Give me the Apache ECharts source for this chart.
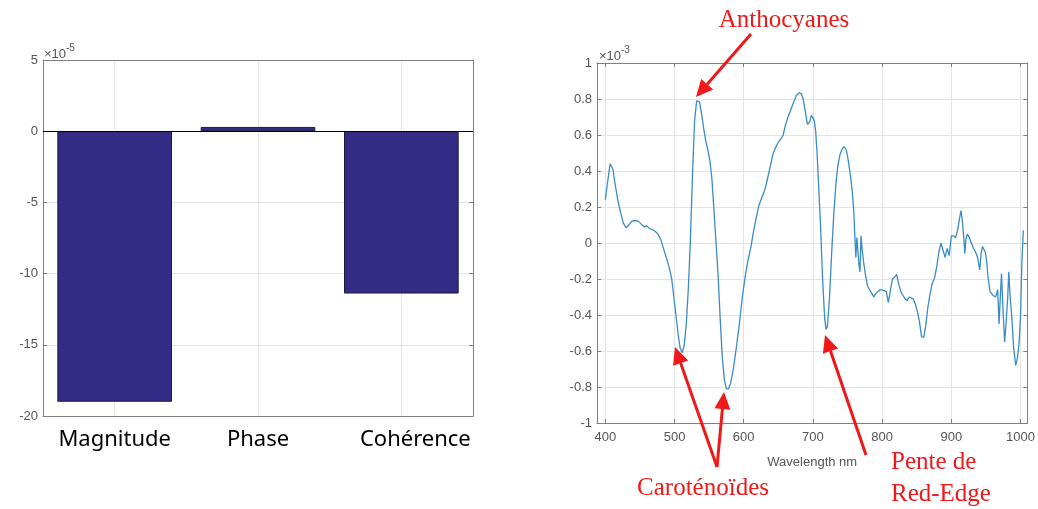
<!DOCTYPE html>
<html>
<head>
<meta charset="utf-8">
<script src="https://cdn.jsdelivr.net/npm/echarts@6.0.0/dist/echarts.min.js"></script>
<style>
html, body { margin: 0; padding: 0; background: #fff; }
#main { width: 1038px; height: 509px; }
</style>
</head>
<body>
<div id="main"></div>
<script>
// left panel, values in units of 1e-5
var barCategories = ['Magnitude', 'Phase', 'Cohérence'];
var barValues = [-19.0, 0.3, -11.4];
var barTicks = [-20, -15, -10, -5, 0, 5];

// right panel, wavelength (nm) and discriminant value in units of 1e-3
var wavelengths = [
  400, 403, 407, 411, 414, 418, 422, 426, 430, 434, 438, 443, 448, 452, 456, 460, 464, 468, 472, 476,
  480, 484, 488, 492, 496, 499, 502, 505, 508, 511, 514, 517, 520, 523, 526, 529, 532, 534, 536, 539,
  542, 545, 548, 551, 554, 557, 560, 563, 566, 569, 572, 575, 578, 581, 585, 589, 594, 598, 602, 606,
  610, 614, 618, 622, 626, 630, 634, 638, 642, 646, 650, 654, 657, 660, 664, 668, 672, 676, 680, 683,
  686, 689, 692, 695, 698, 700, 702, 704, 706, 708, 711, 714, 717, 719, 721, 724, 727, 730, 733, 736,
  739, 742, 745, 748, 751, 754, 757, 759, 760.5, 762, 763.5, 765, 766.5, 768, 769.5, 771, 773, 776, 779, 782,
  785, 788, 791, 794, 797, 800, 803, 806, 809, 812, 815, 818, 821, 824, 827, 830, 833, 836, 839, 842,
  845, 848, 851, 854, 857, 860, 863, 866, 869, 872, 876, 879, 882, 885, 888, 891, 894, 897, 900, 903,
  906, 909, 912, 914, 916, 918, 919.5, 921, 923, 926, 929, 932, 935, 938, 941, 943, 945, 947, 949, 951,
  953, 956, 960, 964, 967, 969, 971, 972.5, 974.5, 977, 979, 981.5, 983, 985, 987.5, 990, 993, 995.5, 998, 1000,
  1002, 1004
];
var spectrum = [
  0.24, 0.33, 0.44, 0.41, 0.33, 0.24, 0.17, 0.11, 0.085, 0.10, 0.12, 0.125, 0.12, 0.105, 0.09, 0.095, 0.08, 0.075, 0.065, 0.05,
  0.02, -0.03, -0.08, -0.13, -0.20, -0.30, -0.40, -0.50, -0.58, -0.61, -0.57, -0.45, -0.25, 0.02, 0.38, 0.68, 0.79, 0.80, 0.785, 0.72,
  0.64, 0.57, 0.52, 0.46, 0.36, 0.18, 0.0, -0.18, -0.42, -0.63, -0.76, -0.81, -0.81, -0.78, -0.70, -0.59, -0.44, -0.30, -0.19, -0.10,
  -0.03, 0.06, 0.14, 0.21, 0.25, 0.29, 0.35, 0.42, 0.49, 0.53, 0.56, 0.58, 0.60, 0.65, 0.70, 0.74, 0.78, 0.82, 0.835, 0.83,
  0.80, 0.73, 0.66, 0.67, 0.71, 0.71, 0.68, 0.62, 0.50, 0.34, 0.10, -0.20, -0.42, -0.48, -0.46, -0.30, -0.06, 0.15, 0.32, 0.43,
  0.49, 0.52, 0.535, 0.52, 0.46, 0.38, 0.28, 0.18, 0.04, -0.08, 0.03, 0.04, -0.12, -0.16, 0.04, -0.03, -0.10, -0.18, -0.24, -0.26,
  -0.28, -0.30, -0.28, -0.27, -0.26, -0.26, -0.265, -0.27, -0.33, -0.26, -0.20, -0.19, -0.175, -0.23, -0.27, -0.29, -0.31, -0.32, -0.30, -0.305,
  -0.31, -0.34, -0.38, -0.44, -0.52, -0.525, -0.46, -0.36, -0.29, -0.23, -0.19, -0.13, -0.05, 0.0, -0.04, -0.08, -0.03, -0.07, 0.04, 0.04,
  0.03, 0.07, 0.14, 0.18, 0.12, 0.03, -0.06, 0.02, 0.05, 0.03, 0.0, -0.03, -0.05, -0.08, -0.15, -0.06, -0.02, -0.03, -0.05, -0.10,
  -0.19, -0.27, -0.29, -0.30, -0.26, -0.45, -0.28, -0.17, -0.36, -0.55, -0.45, -0.30, -0.16, -0.30, -0.42, -0.58, -0.68, -0.64, -0.55, -0.40,
  -0.10, 0.07
];
var waveTicks = [400, 500, 600, 700, 800, 900, 1000];
var specTicks = [-1, -0.8, -0.6, -0.4, -0.2, 0, 0.2, 0.4, 0.6, 0.8, 1];

var boxColor = '#808080';
var gridColor = '#e4e4e4';
var labelColor = '#555';
var red = '#f01818';
var tickFont = 'Liberation Sans, Arial, sans-serif';
var noteFont = 'Liberation Serif, DejaVu Serif, serif';

var linePoints = wavelengths.map(function (w, i) { return [w, spectrum[i]]; });

var myChart = echarts.init(document.getElementById('main'));

function arrow(x1, y1, x2, y2) {
  var ang = Math.atan2(y2 - y1, x2 - x1);
  var len = 17, half = 8;
  var bx = x2 - len * Math.cos(ang), by = y2 - len * Math.sin(ang);
  var px = -Math.sin(ang) * half, py = Math.cos(ang) * half;
  return [
    { type: 'line', z: 100, shape: { x1: x1, y1: y1, x2: bx, y2: by }, style: { stroke: red, lineWidth: 3 } },
    { type: 'polygon', z: 100, shape: { points: [[x2, y2], [bx + px, by + py], [bx - px, by - py]] }, style: { fill: red } }
  ];
}

function note(text, x, y, align) {
  return {
    type: 'text', z: 100, x: x, y: y,
    style: { text: text, fill: red, font: '25px ' + noteFont, textAlign: align || 'center', textVerticalAlign: 'middle' }
  };
}

function expo(base, sup, x, y) {
  return [
    { type: 'text', x: x, y: y, style: { text: base, fill: labelColor, font: '13px ' + tickFont, textVerticalAlign: 'middle' } },
    { type: 'text', x: x + 22, y: y - 6, style: { text: sup, fill: labelColor, font: '10px ' + tickFont, textVerticalAlign: 'middle' } }
  ];
}

var graphics = []
  .concat(expo('×10', '-5', 44, 54))
  .concat(expo('×10', '-3', 599, 56))
  .concat(arrow(751, 34, 696, 97))
  .concat(arrow(717, 467, 675, 347))
  .concat(arrow(717, 467, 724, 392))
  .concat(arrow(866, 455, 825, 335))
  .concat([
    note('Anthocyanes', 784, 20),
    note('Caroténoïdes', 703, 488),
    note('Pente de', 891, 462, 'left'),
    note('Red-Edge', 891, 494, 'left')
  ]);

var boxLine = { onZero: false, lineStyle: { color: boxColor } };

myChart.setOption({
  animation: false,
  backgroundColor: '#fff',
  grid: [
    { left: 43, top: 60, width: 430, height: 356 },
    { left: 597, top: 63, width: 432, height: 360 }
  ],
  xAxis: [
    {
      type: 'category', gridIndex: 0, data: barCategories, position: 'bottom',
      axisLine: boxLine,
      axisTick: { inside: true, alignWithLabel: true, length: 4, lineStyle: { color: boxColor } },
      axisLabel: {
        interval: 0, color: '#000', fontSize: 22, fontFamily: 'Noto Sans', margin: 13,
        formatter: function (v, i) { return i === 2 ? '{s|' + v + '}' : v; },
        rich: { s: { color: '#000', fontSize: 22, fontFamily: 'Noto Sans', padding: [0, 0, 0, 28] } }
      },
      splitLine: { show: false }
    },
    {
      type: 'category', gridIndex: 0, data: barCategories, position: 'top',
      axisLine: boxLine,
      axisTick: { inside: true, alignWithLabel: true, length: 4, lineStyle: { color: boxColor } },
      axisLabel: { show: false },
      splitLine: { show: true, alignWithLabel: true, lineStyle: { color: gridColor } }
    },
    {
      type: 'value', gridIndex: 1, min: 388, max: 1010, splitNumber: 6, position: 'bottom',
      name: 'Wavelength nm', nameLocation: 'middle', nameGap: 33,
      nameTextStyle: { color: labelColor, fontSize: 13, fontFamily: tickFont },
      axisLine: boxLine,
      axisTick: { inside: true, length: 4, lineStyle: { color: boxColor } },
      axisLabel: {
        color: labelColor, fontSize: 13, fontFamily: tickFont, margin: 8,
        formatter: function (v) { return waveTicks.indexOf(v) >= 0 ? String(v) : ''; }
      },
      splitLine: { show: true, lineStyle: { color: gridColor } }
    },
    {
      type: 'value', gridIndex: 1, min: 388, max: 1010, splitNumber: 6, position: 'top',
      axisLine: boxLine,
      axisTick: { inside: true, length: 4, lineStyle: { color: boxColor } },
      axisLabel: { show: false },
      splitLine: { show: false }
    }
  ],
  yAxis: [
    {
      type: 'value', gridIndex: 0, min: barTicks[0], max: barTicks[barTicks.length - 1], interval: 5, position: 'left',
      axisLine: { show: true, onZero: false, lineStyle: { color: boxColor } },
      axisTick: { show: true, inside: true, length: 4, lineStyle: { color: boxColor } },
      axisLabel: { color: labelColor, fontSize: 13, fontFamily: tickFont, margin: 5 },
      splitLine: { show: true, lineStyle: { color: gridColor } }
    },
    {
      type: 'value', gridIndex: 0, min: barTicks[0], max: barTicks[barTicks.length - 1], interval: 5, position: 'right',
      axisLine: { show: true, onZero: false, lineStyle: { color: boxColor } },
      axisTick: { show: true, inside: true, length: 4, lineStyle: { color: boxColor } },
      axisLabel: { show: false },
      splitLine: { show: false }
    },
    {
      type: 'value', gridIndex: 1, min: specTicks[0], max: specTicks[specTicks.length - 1], interval: 0.2, position: 'left',
      axisLine: { show: true, onZero: false, lineStyle: { color: boxColor } },
      axisTick: { show: true, inside: true, length: 4, lineStyle: { color: boxColor } },
      axisLabel: { color: labelColor, fontSize: 13, fontFamily: tickFont, margin: 5 },
      splitLine: { show: true, lineStyle: { color: gridColor } }
    },
    {
      type: 'value', gridIndex: 1, min: specTicks[0], max: specTicks[specTicks.length - 1], interval: 0.2, position: 'right',
      axisLine: { show: true, onZero: false, lineStyle: { color: boxColor } },
      axisTick: { show: true, inside: true, length: 4, lineStyle: { color: boxColor } },
      axisLabel: { show: false },
      splitLine: { show: false }
    }
  ],
  series: [
    {
      type: 'bar', xAxisIndex: 0, yAxisIndex: 0, data: barValues, barWidth: '80%',
      itemStyle: { color: '#342b86', borderColor: '#1c1c3a', borderWidth: 1 },
      markLine: {
        silent: true, symbol: 'none', label: { show: false },
        lineStyle: { color: '#000', width: 1, type: 'solid' },
        data: [{ yAxis: 0 }]
      }
    },
    {
      type: 'line', xAxisIndex: 2, yAxisIndex: 2, data: linePoints, showSymbol: false,
      lineStyle: { color: '#3a8cc6', width: 1.3 }
    }
  ],
  graphic: graphics
});
</script>
</body>
</html>
